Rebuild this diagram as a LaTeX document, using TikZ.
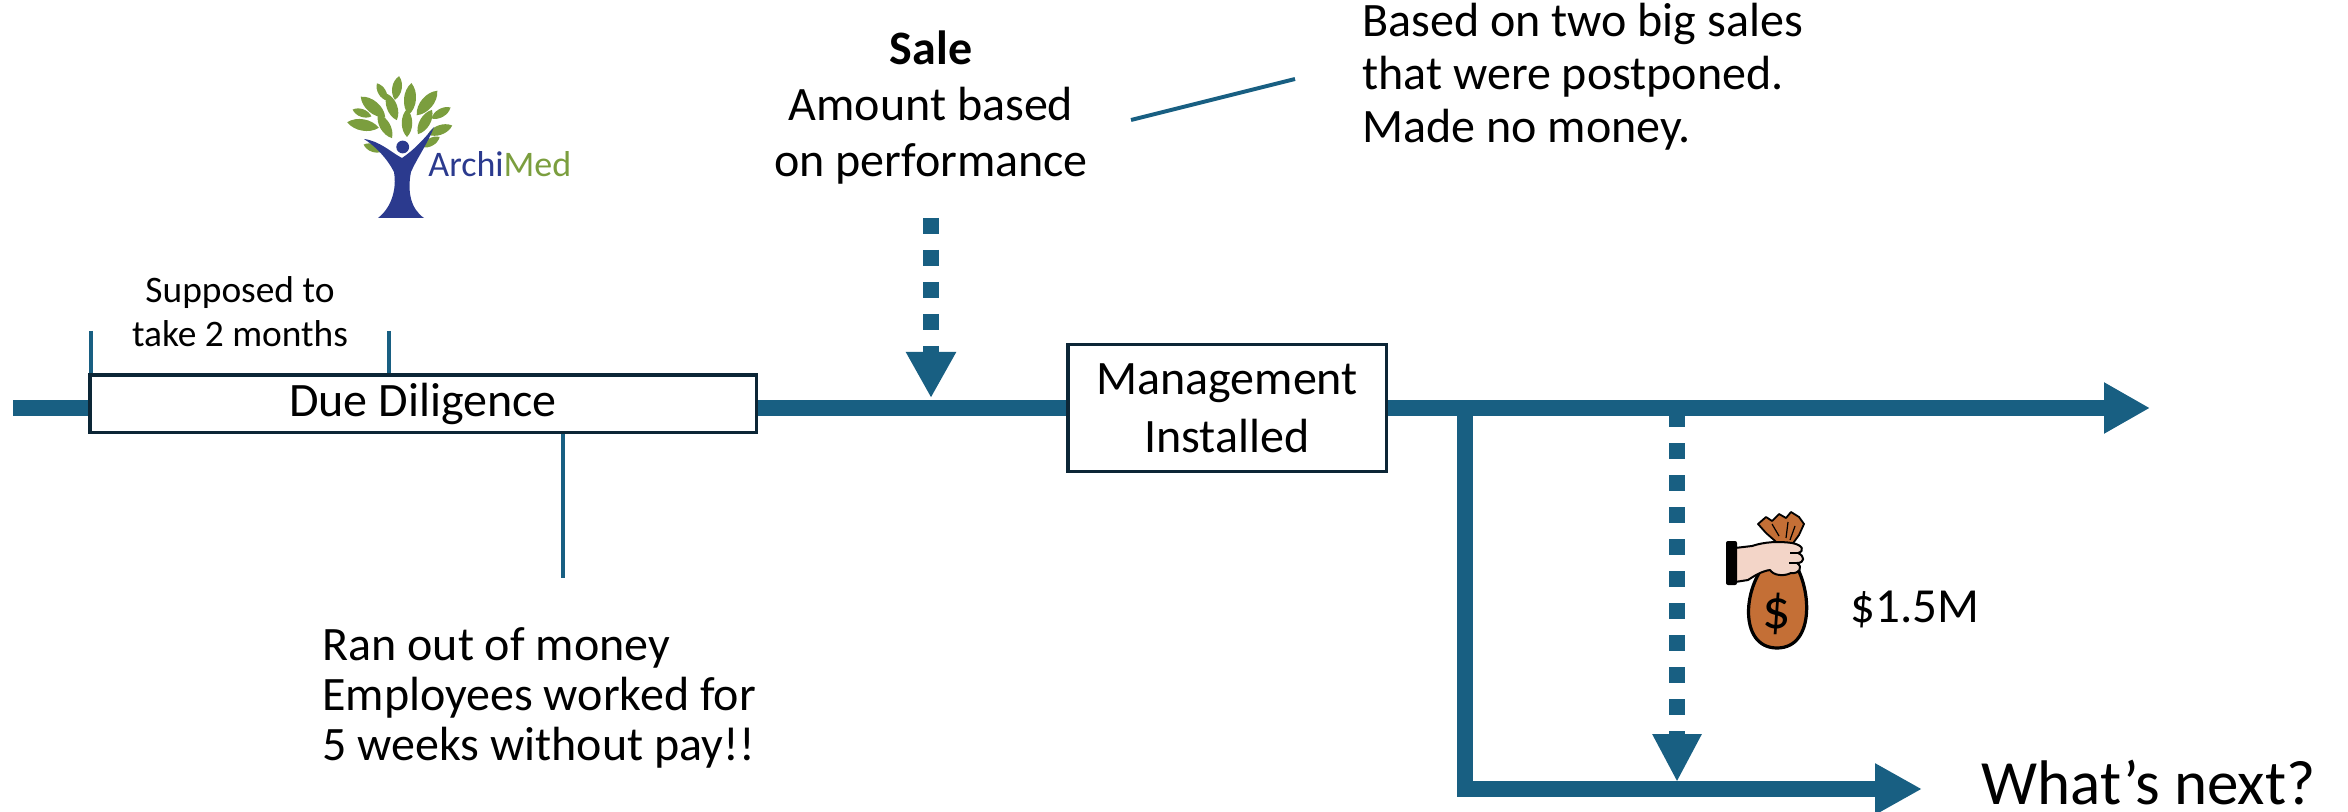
\documentclass[tikz,border=0pt]{standalone}
\usepackage{fontspec}
\setmainfont{Carlito}
\usetikzlibrary{arrows.meta,calc}
\definecolor{tlblue}{HTML}{185F82}
\definecolor{boxnavy}{HTML}{0C2636}
\definecolor{leafgreen}{HTML}{7B9E3E}
\definecolor{logoblue}{HTML}{2B3A8E}
\definecolor{bagbrown}{HTML}{C46F36}
\definecolor{skin}{HTML}{F3D5C8}
\begin{document}
\begin{tikzpicture}[x=0.5pt,y=-0.5pt,
  timeline/.style={draw=tlblue, line width=8pt},
  eventbox/.style={draw=boxnavy, line width=1.75pt, fill=white, inner sep=0pt, align=center},
  thinline/.style={draw=tlblue, line width=2pt},
  dotarrow/.style={draw=tlblue, line width=8pt, dash pattern=on 8pt off 8pt},
  txt/.style={inner sep=0pt, font=\fontsize{24pt}{26.5pt}\selectfont},
  leaf/.style={fill=leafgreen},
]
\useasboundingbox (0,0) rectangle (2348,812);

% ---- event boxes
\node[eventbox, minimum width=333.25pt, minimum height=28.75pt,
      font=\fontsize{24pt}{28pt}\selectfont] (dd) at (423,403.5) {Due Diligence};
\node[eventbox, minimum width=159.25pt, minimum height=63.25pt,
      font=\fontsize{24pt}{29pt}\selectfont] (mg) at (1227,408) {Management\\Installed};

% ---- main time line
\coordinate (tstart) at (13,408);
\coordinate (tend) at (2150,408);
\draw[timeline] (tstart) -- (tstart -| dd.west);
\draw[timeline] (tstart -| dd.east) -- (tstart -| mg.west);
\draw[timeline, -{Triangle[length=23pt,width=24pt]}] (tstart -| mg.east) -- (tend);

% ---- branch down to the second line
\coordinate (bstart) at (1465,408);
\coordinate (bturn) at (1465,789);
\coordinate (bend) at (1922,789);
\draw[timeline, -{Triangle[length=23.5pt,width=24pt]}] (bstart) -- (bturn) -- (bend);

% ---- dotted arrows
\coordinate (s1) at (931,218);
\coordinate (s2) at (931,398);
\draw[dotarrow, -{Triangle[length=23pt,width=23.5pt]}] (s1) -- (s2);
\coordinate (m1) at (1677,411);
\coordinate (m2) at (1677,782);
\draw[dotarrow, -{Triangle[length=24pt,width=23pt]}] (m1) -- (m2);

% ---- thin callout lines
\coordinate (tk1) at (90.5,331);
\coordinate (tk2) at (389,331);
\coordinate (dl) at (563,578);
\draw[thinline] (tk1) -- (tk1 |- dd.north);
\draw[thinline] (tk2) -- (tk2 |- dd.north);
\draw[thinline] (dd.south -| dl) -- (dl);
\coordinate (c1) at (1131,120);
\coordinate (c2) at (1295,79);
\draw[thinline] (c1) -- (c2);

% ---- texts (multi-line nodes sit on the baseline of their last line)
\node[txt, font=\fontsize{18.7pt}{22pt}\selectfont, align=center, anchor=base] (sup) at (240,347)
  {Supposed to\\take 2 months};
\node[txt, font=\fontsize{24pt}{28pt}\selectfont, align=center, anchor=base] (sale) at (931,177)
  {\textbf{Sale}\\Amount based\\on performance};
\node[txt, align=left, anchor=base west, font=\fontsize{24pt}{25pt}\selectfont] (ran) at (322,760)
  {Ran out of money\\Employees worked for\\5 weeks without pay!!};
\node[txt, align=left, anchor=base west] (based) at (1362,143)
  {Based on two big sales\\that were postponed.\\Made no money.};
\node[txt, font=\fontsize{24.5pt}{26pt}\selectfont, anchor=base west] (amt) at (1850,622) {\$1.5M};
\node[txt, font=\fontsize{31.5pt}{38pt}\selectfont, anchor=base west] (next) at (1981,804) {What’s next?};

% ---- ArchiMed logo: leafy canopy
\foreach \lx/\ly/\la/\ll/\lw in {
  397/88/-10/6/3.2, 382/92/30/5/2.6, 410/99/-5/8/4, 427/103/-40/8/4,
  373/107/50/8/4, 392/107/20/7/3.5, 362/113/70/5/2.6, 441/113/-60/5.5/2.8,
  363/125/80/8/3.8, 385/126/30/7/3.4, 407/123/0/7/3.5, 425/122/-30/7/3.5,
  440/130/-70/6.5/3.2, 373/148/70/5/2.6, 431/142/-60/5/2.6}
{
  \begin{scope}[shift={(\lx,\ly)}, rotate=\la]
    \fill[leaf] (0,-2*\ll) .. controls (2*\lw,-\ll) and (2*\lw,\ll) .. (0,2*\ll)
                 .. controls (-2*\lw,\ll) and (-2*\lw,-\ll) .. cycle;
  \end{scope}
}
% figure forming the trunk
\fill[logoblue] (364,139) .. controls (380,141) and (392,153) .. (402,158)
  .. controls (414,150) and (424,139) .. (434,127)
  .. controls (428,143) and (416,160) .. (411,172)
  .. controls (407,192) and (411,209) .. (424,218)
  -- (378,218)
  .. controls (391,208) and (397,190) .. (394,172)
  .. controls (387,158) and (375,146) .. cycle;
\fill[logoblue] (402.7,147) circle[radius=3.2pt];
\node[inner sep=0pt, anchor=base west, font=\fontsize{18pt}{20pt}\selectfont] (logo) at (428,177)
  {\textcolor{logoblue}{Archi}\textcolor{leafgreen}{Med}};

% ---- money bag held by a hand
\draw[fill=bagbrown, line width=0.9pt, line join=round]
  (1758,524) -- (1766,517) -- (1772,521) -- (1779,514) -- (1786,518) -- (1791,512)
  -- (1799,517) -- (1804,524) -- (1799,535) -- (1791,546) -- (1782,548)
  -- (1774,540) -- (1766,533) -- cycle;
\draw[line width=0.6pt] (1772,524) -- (1779,536) (1788,522) -- (1786,538) (1795,526) -- (1790,540);
\draw[fill=bagbrown, line width=1.6pt]
  (1771,558) .. controls (1742,584) and (1738,648) .. (1777,648)
  .. controls (1816,648) and (1812,584) .. (1791,558) -- cycle;
\node[inner sep=0pt, font=\fontsize{28pt}{30pt}\selectfont] (dollar) at (1777,614) {\$};
\draw[fill=skin, line width=1pt, line join=round]
  (1735,548) -- (1752,546) .. controls (1764,542) and (1778,541) .. (1792,543)
  .. controls (1803,545) and (1805,551) .. (1798,553)
  .. controls (1805,556) and (1805,563) .. (1797,563)
  .. controls (1803,567) and (1800,574) .. (1791,573)
  .. controls (1783,577) and (1773,575) .. (1770,570)
  .. controls (1762,571) and (1754,576) .. (1748,580) -- (1735,582) -- cycle;
\draw[line width=0.7pt] (1790,553) -- (1798,553) (1789,563) -- (1797,563);
\fill[black, rounded corners=1pt] (1726,541) rectangle (1737,585);
\end{tikzpicture}
\end{document}
